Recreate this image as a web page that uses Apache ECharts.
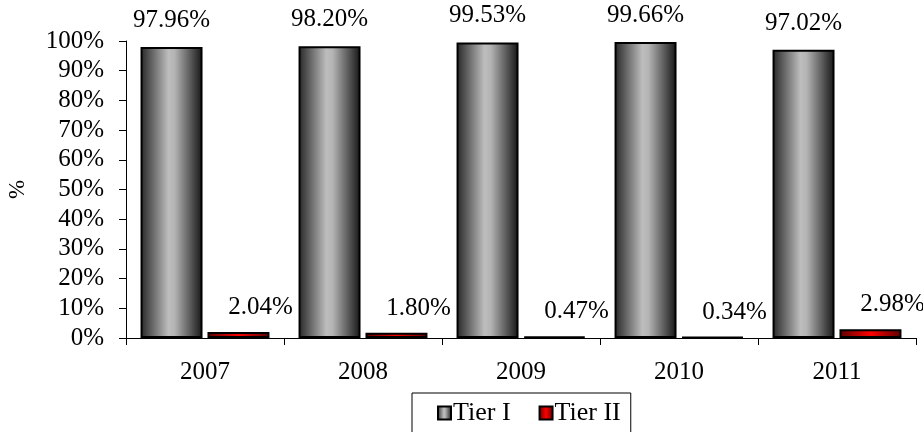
<!DOCTYPE html>
<html>
<head>
<meta charset="utf-8">
<script src="https://cdn.jsdelivr.net/npm/echarts@6/dist/echarts.min.js"></script>
<style>
  html, body { margin: 0; padding: 0; background: #fff; }
  #chart { width: 923px; height: 432px; }
</style>
</head>
<body>
<div id="chart"></div>
<script>
// Capital composition by year (share of total, %)
const years = ['2007', '2008', '2009', '2010', '2011'];
const tier1 = [97.96, 98.20, 99.53, 99.66, 97.02];
const tier2 = [2.04, 1.80, 0.47, 0.34, 2.98];
const yTicks = { min: 0, max: 100, step: 10 };

const FONT = '"Liberation Serif", "Times New Roman", serif';
const FS = 25;

const grayFill = new echarts.graphic.LinearGradient(0, 0, 1, 0, [
  { offset: 0, color: '#262626' },
  { offset: 0.45, color: '#bdbdbd' },
  { offset: 0.55, color: '#b4b4b4' },
  { offset: 1, color: '#151515' }
]);
const redFill = new echarts.graphic.LinearGradient(0, 0, 1, 0, [
  { offset: 0, color: '#5a0000' },
  { offset: 0.5, color: '#ff0000' },
  { offset: 1, color: '#5a0000' }
]);

const chart = echarts.init(document.getElementById('chart'), null, { renderer: 'canvas' });

chart.setOption({
  animation: false,
  backgroundColor: '#fff',
  textStyle: { fontFamily: FONT, color: '#000' },
  grid: { left: 126, right: 7, top: 41, bottom: 94, containLabel: false, outerBoundsMode: 'none' },
  legend: {
    data: ['Tier I', 'Tier II'],
    left: 412,
    top: 393,
    icon: 'rect',
    itemWidth: 13,
    itemHeight: 13,
    itemGap: 28,
    padding: [7, 10, 10, 25],
    borderColor: '#000',
    borderWidth: 1,
    textStyle: { fontFamily: FONT, fontSize: 26, color: '#000', padding: [0, 0, 0, -3] }
  },
  xAxis: {
    type: 'category',
    data: years,
    axisLine: { lineStyle: { color: '#000', width: 1 } },
    axisTick: { show: true, length: 7, lineStyle: { color: '#000' } },
    axisLabel: { fontFamily: FONT, fontSize: FS, color: '#000', margin: 22 }
  },
  yAxis: {
    type: 'value',
    min: yTicks.min,
    max: yTicks.max,
    interval: yTicks.step,
    name: '%',
    nameLocation: 'middle',
    nameRotate: 90,
    nameGap: 97,
    nameTextStyle: { fontFamily: FONT, fontSize: 23, color: '#000' },
    axisLine: { show: true, lineStyle: { color: '#000', width: 1 } },
    axisTick: { show: true, length: 7, lineStyle: { color: '#000' } },
    splitLine: { show: false },
    axisLabel: {
      fontFamily: FONT, fontSize: FS, color: '#000', margin: 22,
      formatter: v => v + '%'
    }
  },
  series: [
    {
      name: 'Tier I',
      type: 'bar',
      data: tier1,
      barGap: '8%',
      barCategoryGap: '18.4%',
      itemStyle: { color: grayFill, borderColor: '#000', borderWidth: 2 },
      label: {
        show: true,
        position: 'top',
        distance: 14,
        fontFamily: FONT,
        fontSize: FS,
        color: '#000',
        formatter: p => p.value.toFixed(2) + '%'
      }
    },
    {
      name: 'Tier II',
      type: 'bar',
      data: tier2,
      itemStyle: { color: redFill, borderColor: '#000', borderWidth: 2 },
      label: {
        show: true,
        position: 'top',
        distance: 12,
        offset: [22, 0],
        fontFamily: FONT,
        fontSize: FS,
        color: '#000',
        formatter: p => p.value.toFixed(2) + '%'
      }
    }
  ]
});
</script>
</body>
</html>
